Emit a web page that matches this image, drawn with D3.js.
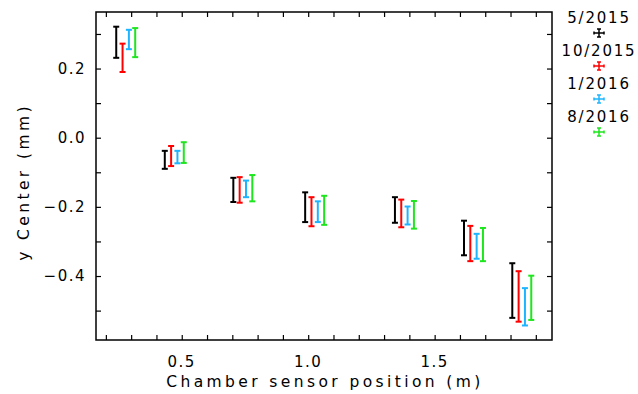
<!DOCTYPE html>
<html>
<head>
<meta charset="utf-8">
<script src="https://cdn.jsdelivr.net/npm/d3@7"></script>
<style>
  body { margin: 0; background: #fff; }
  svg { display: block; }
  text { font-family: "DejaVu Sans", sans-serif; fill: #000; }
</style>
</head>
<body>
<svg id="chart" width="638" height="394"></svg>
<script>
// sensor positions (m) for the first campaign, later campaigns shifted a bit right
const sensorPos = [0.241, 0.433, 0.704, 0.988, 1.343, 1.616, 1.807];
const dateOffset = [0, 0.025, 0.05, 0.075];
const dates = ['5/2015', '10/2015', '1/2016', '8/2016'];
const colors = ['#000000', '#ff0000', '#1eb4ff', '#1ee61e'];

// y centre (mm) and error per campaign
const yMay15 = [0.276, -0.064, -0.151, -0.201, -0.209, -0.290, -0.442];
const eMay15 = [0.045, 0.026, 0.035, 0.043, 0.037, 0.050, 0.079];
const yOct15 = [0.231, -0.053, -0.151, -0.214, -0.219, -0.306, -0.459];
const eOct15 = [0.041, 0.029, 0.037, 0.042, 0.040, 0.051, 0.073];
const yJan16 = [0.284, -0.056, -0.148, -0.214, -0.225, -0.314, -0.489];
const eJan16 = [0.028, 0.018, 0.024, 0.030, 0.026, 0.036, 0.054];
const yAug16 = [0.275, -0.043, -0.146, -0.210, -0.223, -0.309, -0.463];
const eAug16 = [0.042, 0.030, 0.038, 0.042, 0.040, 0.048, 0.064];

const xTicks = [0.5, 1.0, 1.5];
const yTicks = [-0.4, -0.2, 0.0, 0.2];

const allY = [yMay15, yOct15, yJan16, yAug16];
const allE = [eMay15, eOct15, eJan16, eAug16];

const margin = {left: 96, right: 86, top: 12, bottom: 54};
const svg = d3.select('#chart');
const W = +svg.attr('width'), H = +svg.attr('height');
const width = W - margin.left - margin.right;
const height = H - margin.top - margin.bottom;

const x = d3.scaleLinear().domain([0.161, 1.964]).range([0, width]);
const y = d3.scaleLinear().domain([-0.585, 0.3635]).range([height, 0]);

const g = svg.append('g').attr('transform', `translate(${margin.left},${margin.top})`);

const TICK = 5;
const minorX = d3.range(2, 20).map(d => d / 10);
const minorY = d3.range(-5, 4).map(d => d / 10);

// ticks on all four sides, pointing inward
const axes = [
    d3.axisBottom(x).tickValues(minorX).tickSizeInner(-TICK).tickSizeOuter(0).tickFormat(''),
    d3.axisTop(x).tickValues(minorX).tickSizeInner(-TICK).tickSizeOuter(0).tickFormat(''),
    d3.axisLeft(y).tickValues(minorY).tickSizeInner(-TICK).tickSizeOuter(0).tickFormat(''),
    d3.axisRight(y).tickValues(minorY).tickSizeInner(-TICK).tickSizeOuter(0).tickFormat('')
];
const shifts = [`translate(0,${height})`, 'translate(0,0)', 'translate(0,0)', `translate(${width},0)`];
axes.forEach((a, i) => {
    const ag = g.append('g').attr('transform', shifts[i]).call(a);
    ag.select('.domain').remove();
    ag.selectAll('line').attr('stroke', '#000').attr('stroke-width', 1.2);
});

g.append('rect')
    .attr('width', width).attr('height', height)
    .attr('fill', 'none').attr('stroke', '#000').attr('stroke-width', 1.5);

// tick labels
g.append('g').selectAll('text').data(xTicks).join('text')
    .attr('x', d => x(d)).attr('y', height + 27)
    .attr('text-anchor', 'middle').attr('font-size', 15).attr('letter-spacing', 1.5)
    .text(d3.format('.1f'));
g.append('g').selectAll('text').data(yTicks).join('text')
    .attr('x', -10).attr('y', d => y(d)).attr('dy', '0.35em')
    .attr('text-anchor', 'end').attr('font-size', 15).attr('letter-spacing', 1.5)
    .text(d => d3.format('.1f')(d).replace('-', '\u2212'));

// axis titles
svg.append('text')
    .attr('x', 325).attr('y', H - 7)
    .attr('text-anchor', 'middle').attr('font-size', 15.5).attr('letter-spacing', 3.4)
    .text('Chamber sensor position (m)');
svg.append('text')
    .attr('transform', `translate(29,182) rotate(-90)`)
    .attr('text-anchor', 'middle').attr('font-size', 15.5).attr('letter-spacing', 3.4)
    .text('y Center (mm)');

// error bars
const CAP = 3;
allY.forEach((vals, s) => {
    const pts = vals.map((v, i) => ({x: sensorPos[i] + dateOffset[s], y: v, e: allE[s][i]}));
    const bars = g.append('g').attr('stroke', colors[s]).attr('stroke-width', 2)
        .selectAll('g').data(pts).join('g');
    bars.append('line')
        .attr('x1', d => x(d.x)).attr('x2', d => x(d.x))
        .attr('y1', d => y(d.y - d.e)).attr('y2', d => y(d.y + d.e));
    bars.append('line')
        .attr('x1', d => x(d.x) - CAP).attr('x2', d => x(d.x) + CAP)
        .attr('y1', d => y(d.y + d.e)).attr('y2', d => y(d.y + d.e));
    bars.append('line')
        .attr('x1', d => x(d.x) - CAP).attr('x2', d => x(d.x) + CAP)
        .attr('y1', d => y(d.y - d.e)).attr('y2', d => y(d.y - d.e));
});

// legend
const legend = svg.append('g').attr('transform', `translate(${W - 39},0)`);
dates.forEach((d, i) => {
    const ty = 23 + i * 33;
    legend.append('text')
        .attr('x', 0).attr('y', ty)
        .attr('text-anchor', 'middle').attr('font-size', 15).attr('letter-spacing', 1.8)
        .text(d);
    const sy = ty + 10;
    const sym = legend.append('g').attr('stroke', colors[i]).attr('stroke-width', 1.5);
    sym.append('line').attr('x1', -5).attr('x2', 5).attr('y1', sy).attr('y2', sy);
    sym.append('line').attr('x1', 0).attr('x2', 0).attr('y1', sy - 4).attr('y2', sy + 4);
    sym.append('line').attr('x1', -2).attr('x2', 2).attr('y1', sy - 4).attr('y2', sy - 4);
    sym.append('line').attr('x1', -2).attr('x2', 2).attr('y1', sy + 4).attr('y2', sy + 4);
    sym.append('line').attr('x1', -5).attr('x2', -5).attr('y1', sy - 1.5).attr('y2', sy + 1.5);
    sym.append('line').attr('x1', 5).attr('x2', 5).attr('y1', sy - 1.5).attr('y2', sy + 1.5);
});
</script>
</body>
</html>
